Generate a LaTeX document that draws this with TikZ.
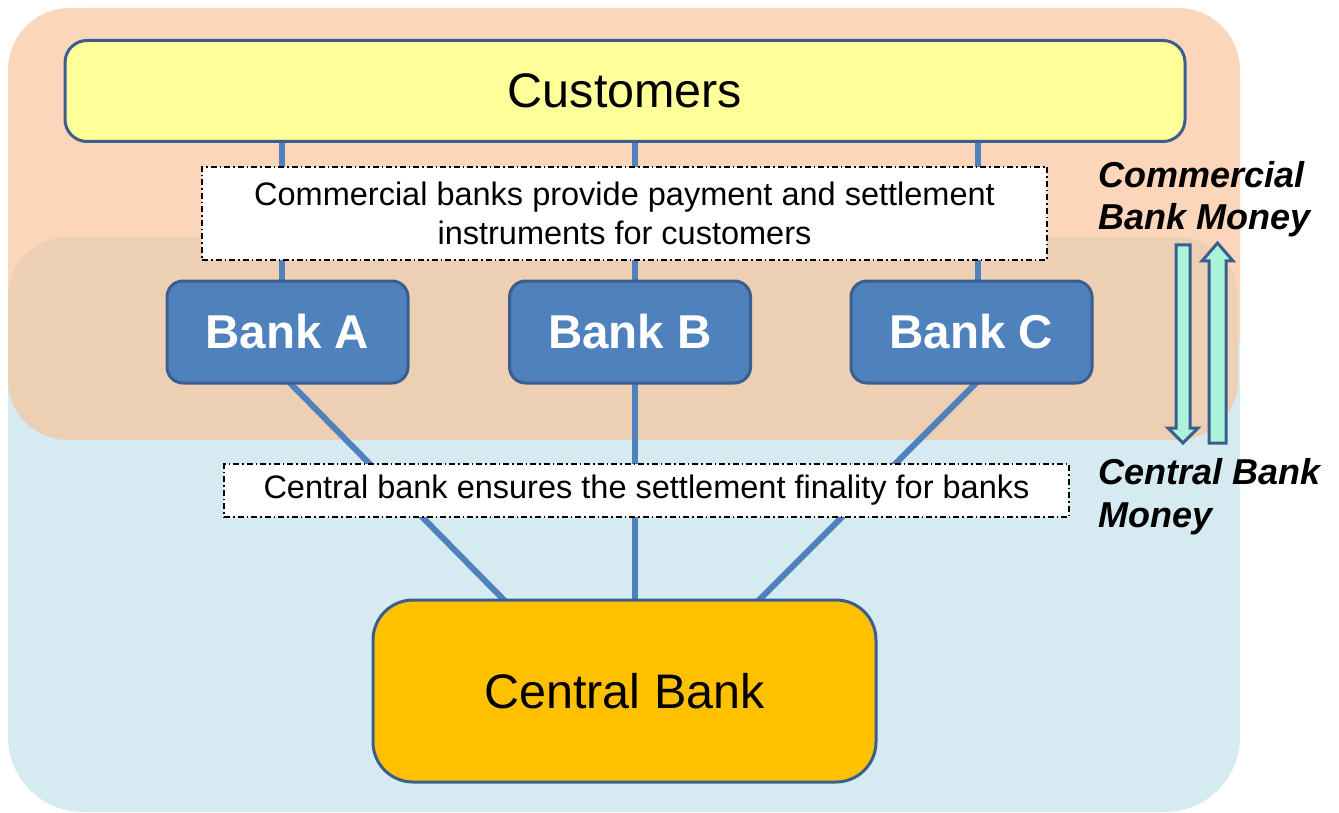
\documentclass[tikz,border=0pt]{standalone}
\usepackage{fontspec}
\setmainfont{Liberation Sans}
\usetikzlibrary{calc,backgrounds}
\definecolor{bgblue}{HTML}{D5EBF1}
\definecolor{bgpeach}{HTML}{FBD6BA}
\definecolor{bgtan}{HTML}{EDCFB4}
\definecolor{custyellow}{HTML}{FFFF99}
\definecolor{bankblue}{HTML}{4F81BD}
\definecolor{edgeblue}{HTML}{3B5E8E}
\definecolor{cbgold}{HTML}{FFC000}
\definecolor{mint}{HTML}{AAF5DA}
\tikzset{
  bankbox/.style={draw=edgeblue,line width=3pt,fill=bankblue,rounded corners=16pt,
    minimum width=241pt,minimum height=102pt,text=white,
    font=\bfseries\fontsize{47.5}{56}\selectfont},
  notebox/.style={draw=black,fill=white,line width=1.2pt,
    dash pattern=on 6pt off 3pt on 1.5pt off 3pt,minimum width=845pt,align=center,
    font=\fontsize{32.5}{39}\selectfont},
  link/.style={draw=bankblue,line width=6pt,shorten <=-4pt,shorten >=-4pt},
  moneylabel/.style={anchor=base west,align=left,inner sep=0pt,
    font=\bfseries\itshape\fontsize{36}{43}\selectfont},
  moneyarrow/.style={draw=edgeblue,line width=3pt,fill=mint,line join=miter}
}
\begin{document}
\begin{tikzpicture}[x=1pt,y=-1pt]
\useasboundingbox (0,0) rectangle (1339,813);
\node[draw=edgeblue,line width=3pt,fill=custyellow,rounded corners=22pt,
  minimum width=1120pt,minimum height=101pt,font=\fontsize{48.5}{58}\selectfont]
  (custs) at (625,91) {Customers};
\node[notebox,minimum height=93pt] (cbnote) at (624.5,213.5)
  {Commercial banks provide payment and settlement\\instruments for customers};
\node[bankbox] (bankA) at (287.5,332) {Bank A};
\node[bankbox] (bankB) at (630,332) {Bank B};
\node[bankbox] (bankC) at (971.5,332) {Bank C};
\node[notebox,minimum height=53pt] (cenote) at (646.5,490.5)
  {Central bank ensures the settlement finality for banks};
\node[draw=edgeblue,line width=3pt,fill=cbgold,rounded corners=40pt,
  minimum width=503pt,minimum height=182pt,font=\fontsize{48.5}{58}\selectfont]
  (cbank) at (624.5,691) {Central Bank};
\node[moneylabel] (commoney) at (1098,230) {Commercial\\Bank Money};
\node[moneylabel] (cenmoney) at (1098,527) {Central Bank\\Money};
\draw[moneyarrow] (1176,245) -- (1190,245) -- (1190,428) -- (1198,428) -- (1183,443)
  -- (1168,428) -- (1176,428) -- cycle;
\draw[moneyarrow] (1209,443) -- (1226,443) -- (1226,261) -- (1233,261) -- (1217.5,243)
  -- (1202,261) -- (1209,261) -- cycle;
\begin{scope}[on background layer]
\fill[bgblue,rounded corners=75pt] (8,8) rectangle (1240,812);
\begin{scope}
\clip (8,8) rectangle (1240,340);
\fill[bgpeach,rounded corners=62pt] (8,8) rectangle (1240,812);
\end{scope}
\fill[bgtan,rounded corners=60pt] (8,237) rectangle (1238,440);
\draw[link] (custs.south -| 282,0) -- (bankA.north -| 282,0);
\draw[link] (custs.south -| 635,0) -- (bankB.north -| 635,0);
\draw[link] (custs.south -| 978,0) -- (bankC.north -| 978,0);
\draw[link] ($(bankA.south)+(4,0)$) -- ($(cbank.north)+(-122,0)$);
\draw[link] (bankB.south -| 635,0) -- (cbank.north -| 635,0);
\draw[link] ($(bankC.south)+(3,0)$) -- ($(cbank.north)+(136,0)$);
\end{scope}
\end{tikzpicture}
\end{document}
